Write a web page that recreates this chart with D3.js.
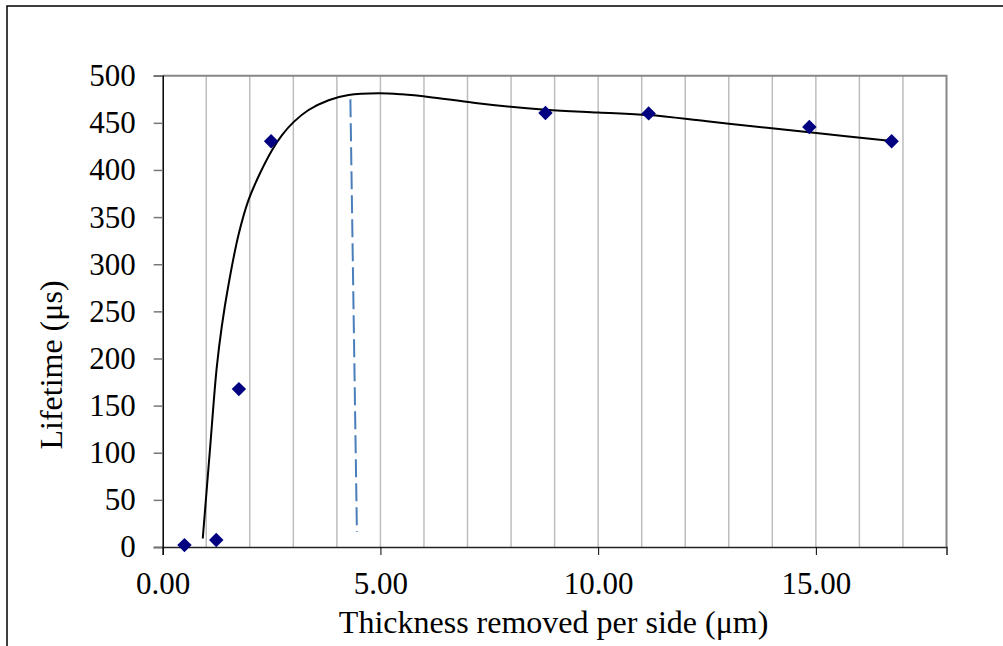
<!DOCTYPE html>
<html><head><meta charset="utf-8">
<script src="https://cdn.jsdelivr.net/npm/d3@7"></script>
<style>body{margin:0;background:#fff}svg{display:block}text{font-family:"Liberation Serif","Times New Roman",serif;fill:#000}</style>
</head><body>
<script>
// Data
const thickness = [0.50, 1.23, 1.75, 2.49, 8.79, 11.16, 14.85, 16.74];
const lifetime  = [2, 7.5, 167.5, 430.5, 460.5, 460, 445.5, 430.5];
// trend curve
const trendX = [0.92, 1.09, 1.24, 1.36, 1.51, 1.74, 1.97, 2.24, 2.51, 2.74, 3.01, 3.35, 3.81, 4.27, 4.96, 5.49, 6.11, 7.18, 8.79, 10.0, 11.16, 12.5, 13.88, 14.85, 16.74];
const trendY = [9, 106, 190, 235, 278, 331, 368, 397, 421, 437, 451, 463.6, 474, 479.5, 481.3, 480.2, 477.5, 471, 464, 461, 458.2, 451.6, 444.8, 440, 430.7];
// dashed marker line
const dashX = [4.31, 4.46];
const dashY = [475, 16];
const xTicks = [0, 5, 10, 15];
const yTicks = [0, 50, 100, 150, 200, 250, 300, 350, 400, 450, 500];
const gridX = d3.range(1, 18, 1);

const W = 1003, H = 646;
const svg = d3.select("body").append("svg").attr("width", W).attr("height", H);
// outer frame (left/top visible, extends beyond)
svg.append("rect").attr("x", 7).attr("y", 6).attr("width", 1100).attr("height", 800)
  .attr("fill", "none").attr("stroke", "#000").attr("stroke-width", 1.5);

const L = 162.7, R = 946.5, T = 75.7, B = 547;
const x = d3.scaleLinear().domain([0, 18]).range([L, R]);
const y = d3.scaleLinear().domain([0, 500]).range([B, T]);

// gridlines
svg.append("g").selectAll("line").data(gridX).join("line")
  .attr("x1", d => x(d)).attr("x2", d => x(d)).attr("y1", T).attr("y2", B)
  .attr("stroke", "#bdbdbd").attr("stroke-width", 1.5);
// plot border top/right
svg.append("path").attr("d", `M${L},${T}H${R}V${B}`).attr("fill", "none")
  .attr("stroke", "#878787").attr("stroke-width", 2);

// y axis
const ya = svg.append("g").attr("transform", `translate(${L},0)`)
  .call(d3.axisLeft(y).tickValues(yTicks).tickSize(9).tickPadding(18));
ya.select(".domain").attr("stroke", "#000").attr("stroke-width", 1.5);
ya.selectAll(".tick line").attr("stroke", "#777").attr("stroke-width", 1.5);
ya.selectAll("text").style("font-size", "31px").style("font-family", "Liberation Serif").attr("fill", "#000");

// x axis
const xa = svg.append("g").attr("transform", `translate(0,${B})`)
  .call(d3.axisBottom(x).tickValues(xTicks).tickSize(8).tickPadding(17).tickFormat(d3.format(".2f")));
xa.select(".domain").attr("stroke", "#222").attr("stroke-width", 1.5);
xa.selectAll(".tick line").attr("stroke", "#000").attr("stroke-width", 1);
xa.selectAll("text").style("font-size", "31px").style("font-family", "Liberation Serif").attr("fill", "#000");

// trend curve
const trend = trendX.map((v, i) => [v, trendY[i]]);
svg.append("path").datum(trend)
  .attr("d", d3.line().x(d => x(d[0])).y(d => y(d[1])).curve(d3.curveCatmullRom.alpha(0.5)))
  .attr("fill", "none").attr("stroke", "#000").attr("stroke-width", 2);

// dashed line
svg.append("line").attr("x1", x(dashX[0])).attr("y1", y(dashY[0])).attr("x2", x(dashX[1])).attr("y2", y(dashY[1]))
  .attr("stroke", "#4a7ebb").attr("stroke-width", 2).attr("stroke-dasharray", "18,6");

// markers
const pts = thickness.map((v, i) => [v, lifetime[i]]);
svg.append("g").selectAll("path").data(pts).join("path")
  .attr("d", d3.symbol(d3.symbolSquare, 104)())
  .attr("transform", d => `translate(${x(d[0])},${y(d[1])}) rotate(45)`)
  .attr("fill", "#000080");

// titles
svg.append("text").attr("x", (L + R) / 2 - 1).attr("y", 633).attr("text-anchor", "middle")
  .style("font-size", "32px").text("Thickness removed per side (μm)");
svg.append("text").attr("transform", `translate(62,365) rotate(-90)`).attr("text-anchor", "middle")
  .style("font-size", "32px").text("Lifetime (μs)");
</script>
</body></html>
